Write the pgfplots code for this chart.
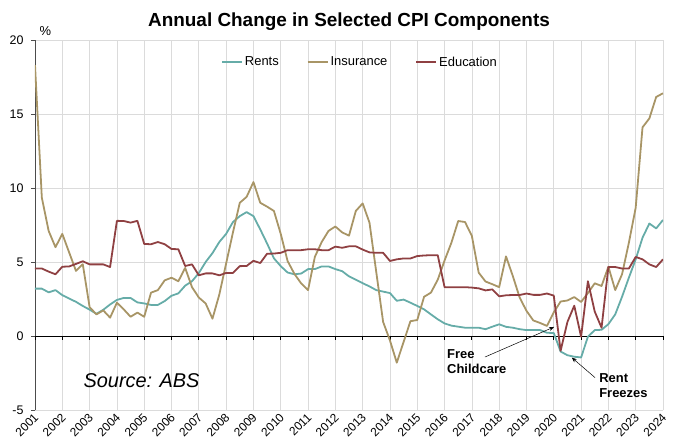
\documentclass[border=0pt]{standalone}
\usepackage{fontspec}
\setmainfont{Liberation Sans}
\usepackage{pgfplots}
\usepackage{pgfplotstable}
\pgfplotsset{compat=1.18}
\usetikzlibrary{arrows.meta}
\definecolor{rentsc}{RGB}{102,172,168}
\definecolor{insc}{RGB}{168,149,102}
\definecolor{educ}{RGB}{143,64,66}
\pgfplotstableread{
t rents ins edu
2001.00 3.20 18.30 4.56
2001.25 3.20 9.35 4.56
2001.50 2.95 7.10 4.35
2001.75 3.10 6.00 4.17
2002.00 2.76 6.90 4.68
2002.25 2.53 5.65 4.70
2002.50 2.31 4.40 4.87
2002.75 2.03 4.85 5.05
2003.00 1.78 1.95 4.84
2003.25 1.50 1.46 4.84
2003.50 1.77 1.73 4.84
2003.75 2.13 1.24 4.66
2004.00 2.44 2.25 7.78
2004.25 2.57 1.80 7.77
2004.50 2.57 1.30 7.66
2004.75 2.27 1.58 7.78
2005.00 2.20 1.30 6.22
2005.25 2.10 2.93 6.20
2005.50 2.10 3.10 6.35
2005.75 2.36 3.76 6.20
2006.00 2.72 3.94 5.88
2006.25 2.88 3.70 5.86
2006.50 3.40 4.60 4.73
2006.75 3.70 3.30 4.84
2007.00 4.25 2.60 4.10
2007.25 5.00 2.20 4.23
2007.50 5.60 1.17 4.23
2007.75 6.35 2.80 4.10
2008.00 6.90 4.90 4.26
2008.25 7.70 7.00 4.26
2008.50 8.10 9.00 4.72
2008.75 8.37 9.40 4.73
2009.00 8.10 10.40 5.08
2009.25 7.20 9.00 4.93
2009.50 6.25 8.74 5.56
2009.75 5.25 8.45 5.57
2010.00 4.72 6.90 5.62
2010.25 4.29 5.07 5.80
2010.50 4.17 4.20 5.80
2010.75 4.22 3.55 5.80
2011.00 4.52 3.10 5.86
2011.25 4.52 5.35 5.86
2011.50 4.70 6.35 5.80
2011.75 4.70 7.10 5.80
2012.00 4.52 7.40 6.04
2012.25 4.38 7.00 5.96
2012.50 4.03 6.78 6.06
2012.75 3.80 8.45 6.06
2013.00 3.57 8.96 5.84
2013.25 3.35 7.66 5.65
2013.50 3.10 4.30 5.62
2013.75 3.00 0.95 5.62
2014.00 2.90 -0.30 5.07
2014.25 2.38 -1.80 5.18
2014.50 2.46 -0.40 5.24
2014.75 2.25 1.00 5.24
2015.00 2.03 1.08 5.40
2015.25 1.80 2.65 5.44
2015.50 1.46 2.93 5.46
2015.75 1.13 3.80 5.46
2016.00 0.85 5.10 3.30
2016.25 0.70 6.30 3.30
2016.50 0.63 7.77 3.30
2016.75 0.56 7.70 3.30
2017.00 0.56 6.76 3.27
2017.25 0.56 4.28 3.22
2017.50 0.46 3.68 3.08
2017.75 0.63 3.50 3.15
2018.00 0.79 3.30 2.68
2018.25 0.62 5.38 2.75
2018.50 0.56 4.05 2.77
2018.75 0.46 2.60 2.77
2019.00 0.40 1.70 2.87
2019.25 0.40 1.05 2.78
2019.50 0.40 0.88 2.78
2019.75 0.22 0.68 2.87
2020.00 0.20 1.60 2.73
2020.25 -1.05 2.33 -1.00
2020.50 -1.30 2.40 0.95
2020.75 -1.40 2.63 2.05
2021.00 -1.45 2.30 -0.05
2021.25 -0.05 2.90 3.70
2021.50 0.40 3.56 1.65
2021.75 0.42 3.38 0.56
2022.00 0.80 4.68 4.66
2022.25 1.46 3.10 4.66
2022.50 2.65 4.17 4.56
2022.75 3.94 6.30 4.56
2023.00 5.18 8.67 5.34
2023.25 6.64 14.10 5.18
2023.50 7.60 14.70 4.84
2023.75 7.27 16.15 4.66
2024.00 7.84 16.40 5.18
}\data
\begin{document}
\begin{tikzpicture}
\useasboundingbox (0,0) rectangle (680bp,446bp);
\begin{axis}[
  at={(35bp,36bp)}, anchor=south west,
  scale only axis, width=628bp, height=370bp,
  xmin=0, xmax=23, ymin=-5, ymax=20,
  clip mode=individual,
  xtick={0,1,2,3,4,5,6,7,8,9,10,11,12,13,14,15,16,17,18,19,20,21,22,23},
  xticklabels={2001,2002,2003,2004,2005,2006,2007,2008,2009,2010,2011,2012,2013,2014,2015,2016,2017,2018,2019,2020,2021,2022,2023,2024},
  ytick={-5,0,5,10,15,20},
  /pgf/number format/assume math mode=true,
  axis lines*=left,
  x axis line style={draw=none},
  y axis line style={draw=black!70, line width=0.8pt},
  xtick style={draw=none},
  ytick style={draw=black!70, line width=0.8pt},
  tick align=outside, major tick length=4bp,
  grid=major, major grid style={draw=black!14, line width=0.7pt},
  xticklabel style={rotate=45, anchor=east, inner sep=1bp, font=\fontsize{12}{12}\selectfont, yshift=-2bp, xshift=1bp},
  yticklabel style={font=\fontsize{12.5}{12.5}\selectfont, xshift=-4bp},
  legend style={draw=none, fill=none, at={(0.5175,0.94)}, anchor=center,
    legend columns=3, font=\fontsize{13}{15}\selectfont,
    /tikz/every even column/.append style={column sep=26bp}},
  legend image code/.code={\draw[#1] (0bp,0bp) -- (20bp,0bp);},
  every axis plot/.append style={line width=1.8pt, line join=round},
]
\draw[black, line width=0.9pt] (axis cs:0,0) -- (axis cs:23,0);
\pgfplotsinvokeforeach{0,1,2,3,4,5,6,7,8,9,10,11,12,13,14,15,16,17,18,19,20,21,22,23}{\draw[black, line width=0.8pt] (axis cs:#1,0) -- ++(0bp,-4bp);}
\addplot[rentsc] table[x expr=\thisrow{t}-2001, y=rents] {\data};
\addlegendentry{Rents}
\addplot[insc] table[x expr=\thisrow{t}-2001, y=ins] {\data};
\addlegendentry{Insurance}
\addplot[educ] table[x expr=\thisrow{t}-2001, y=edu] {\data};
\addlegendentry{Education}
\node[font=\bfseries\fontsize{19}{21}\selectfont, anchor=base] at (rel axis cs:0.5,1) [yshift=13.5bp] {Annual Change in Selected CPI Components};
\node[font=\fontsize{13}{13}\selectfont] at (axis cs:0,20) [xshift=10.5bp, yshift=9bp] {\%};
\node[font=\itshape\fontsize{20}{20}\selectfont, anchor=west] at (axis cs:1.65,-3.0) {Source: ABS};
\node[font=\bfseries\fontsize{13}{15}\selectfont, anchor=west, align=left, inner sep=0pt] at (axis cs:15.09,-1.75) {Free\\Childcare};
\node[font=\bfseries\fontsize{13}{15}\selectfont, anchor=west, align=left, inner sep=0pt] at (axis cs:20.66,-3.35) {Rent\\Freezes};
\draw[black, line width=0.5pt, -{Stealth[length=5bp,width=4bp]}] (axis cs:16.48,-1.42) -- (axis cs:19.01,0.61);
\draw[black, line width=0.5pt, -{Stealth[length=5bp,width=4bp]}] (axis cs:20.51,-2.81) -- (axis cs:19.66,-1.46);
\end{axis}
\end{tikzpicture}
\end{document}
